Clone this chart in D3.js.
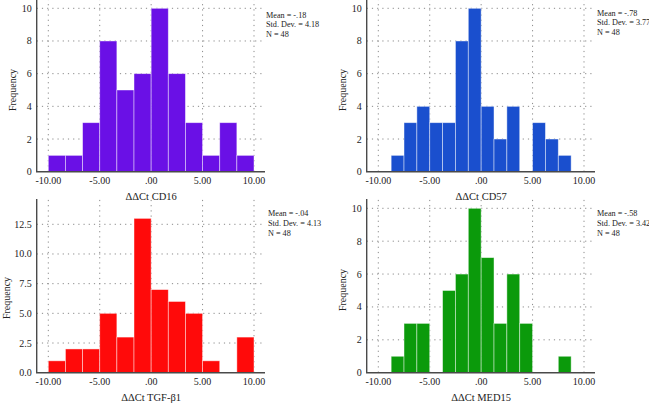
<!DOCTYPE html>
<html><head><meta charset="utf-8">
<script src="https://cdn.jsdelivr.net/npm/d3@7/dist/d3.min.js"></script>
<style>body{margin:0;background:#fff}svg{display:block}text{font-family:"Liberation Serif","Times New Roman",serif;fill:#222}</style>
</head><body><svg id="c" width="649" height="404"></svg>
<script>
// Bin edges
const edges12 = [-10, -8.333, -6.667, -5, -3.333, -1.667, 0, 1.667, 3.333, 5, 6.667, 8.333, 10];
const edges14 = [-8.75, -7.5, -6.25, -5, -3.75, -2.5, -1.25, 0, 1.25, 2.5, 3.75, 5, 6.25, 7.5, 8.75];
// Frequencies
const cd16 = [1, 1, 3, 8, 5, 6, 10, 6, 3, 1, 3, 1];
const cd57 = [1, 3, 4, 3, 3, 8, 10, 4, 2, 4, 0, 3, 2, 1];
const tgf  = [1, 2, 2, 5, 3, 13, 7, 6, 5, 1, 0, 3];
const med15 = [1, 3, 3, 0, 5, 6, 10, 7, 3, 6, 3, 0, 0, 1];
// Tick labels
const xTicks = [-10, -5, 0, 5, 10];
const xTickLabels = ["-10.00", "-5.00", ".00", "5.00", "10.00"];
const yTicksA = [0, 2, 4, 6, 8, 10];
const yTicksB = [0, 2.5, 5, 7.5, 10, 12.5];
const yTickLabelsB = ["0.0", "2.5", "5.0", "7.5", "10.0", "12.5"];
// Titles and stats
const xTitles = ["ΔΔCt CD16", "ΔΔCt CD57", "ΔΔCt TGF-β1", "ΔΔCt MED15"];
const means = ["-.18", "-.78", "-.04", "-.58"];
const sds = ["4.18", "3.77", "4.13", "3.42"];
const ns = [48, 48, 48, 48];

const panels = [
  {edges: edges12, counts: cd16, color: "#6a10e6", ox: 0, oy: 0, yTicks: yTicksA, yLab: d => String(d), yMax: 10.5, y0: 171.7, y1: 8.3, yv1: 10, top: 0, fx: 12, fy: 90, sx: 266, sy: 15},
  {edges: edges14, counts: cd57, color: "#1a4fce", ox: 330, oy: 0, yTicks: yTicksA, yLab: d => String(d), yMax: 10.5, y0: 171.7, y1: 8.3, yv1: 10, top: 0, fx: 342, fy: 90, sx: 597, sy: 13},
  {edges: edges12, counts: tgf, color: "#ff0a0a", ox: 0, oy: 200, yTicks: yTicksB, yLab: (d, i) => yTickLabelsB[i], yMax: 14.6, y0: 372.7, y1: 224.3, yv1: 12.5, top: 199, fx: 6, fy: 298, sx: 268, sy: 213.5},
  {edges: edges14, counts: med15, color: "#0b9a0b", ox: 330, oy: 200, yTicks: yTicksA, yLab: d => String(d), yMax: 10.5, y0: 372.7, y1: 208.3, yv1: 10, top: 199, fx: 342, fy: 290, sx: 597, sy: 213.5}
];

const svg = d3.select("#c");

panels.forEach((p, pi) => {
  const g = svg.append("g");
  const axL = p.ox + 36.7, axR = p.ox + 265;
  const x = d3.scaleLinear().domain([-10, 10]).range([p.ox + 48.3, p.ox + 254]);
  const y = d3.scaleLinear().domain([0, p.yv1]).range([p.y0, p.y1]);
  const topY = p.top;

  // grid
  g.selectAll(".hg").data(p.yTicks.filter(d => d > 0)).join("line")
    .attr("x1", axL).attr("x2", axR).attr("y1", d => y(d)).attr("y2", d => y(d))
    .attr("stroke", "#8a8a8a").attr("stroke-width", 1).attr("stroke-dasharray", "1.2,4");
  g.selectAll(".vg").data(xTicks).join("line")
    .attr("x1", d => x(d)).attr("x2", d => x(d)).attr("y1", p.y0).attr("y2", topY)
    .attr("stroke", "#8a8a8a").attr("stroke-width", 1).attr("stroke-dasharray", "1.2,4");

  // bars
  const bins = p.counts.map((c, i) => ({x0: p.edges[i], x1: p.edges[i + 1], c}));
  g.selectAll(".bar").data(bins.filter(b => b.c > 0)).join("rect")
    .attr("x", b => x(b.x0)).attr("width", b => x(b.x1) - x(b.x0))
    .attr("y", b => y(b.c)).attr("height", b => y(0) - y(b.c))
    .attr("fill", p.color).attr("stroke", "rgba(255,255,255,0.55)").attr("stroke-width", 0.8);

  // axes lines
  g.append("line").attr("x1", axL).attr("x2", axL).attr("y1", topY).attr("y2", p.y0)
    .attr("stroke", "#4a4a4a").attr("stroke-width", 1.4);
  g.append("line").attr("x1", axL - 0.7).attr("x2", axR).attr("y1", p.y0).attr("y2", p.y0)
    .attr("stroke", "#4a4a4a").attr("stroke-width", 1.4);

  // y tick labels
  g.selectAll(".yl").data(p.yTicks).join("text")
    .attr("x", axL - 5).attr("y", d => y(d)).attr("dy", "0.35em")
    .attr("text-anchor", "end").attr("font-size", 10)
    .text((d, i) => p.yLab(d, i));
  // x tick labels
  g.selectAll(".xl").data(xTicks).join("text")
    .attr("x", d => x(d)).attr("y", p.y0 + 8.5).attr("dy", "0.35em")
    .attr("text-anchor", "middle").attr("font-size", 10)
    .text((d, i) => xTickLabels[i]);
  // x title
  g.append("text").attr("x", x(0)).attr("y", p.y0 + 25).attr("dy", "0.35em")
    .attr("text-anchor", "middle").attr("font-size", 10.5).text(xTitles[pi]);
  // y title
  g.append("text").attr("transform", `translate(${p.fx},${p.fy}) rotate(-90)`)
    .attr("dy", "0.35em").attr("text-anchor", "middle").attr("font-size", 10).text("Frequency");
  // stats
  const lines = [`Mean = ${means[pi]}`, `Std. Dev. = ${sds[pi]}`, `N = ${ns[pi]}`];
  g.selectAll(".st").data(lines).join("text")
    .attr("x", p.sx).attr("y", (d, i) => p.sy + i * 9.6).attr("dy", "0.35em")
    .attr("font-size", 8.2).text(d => d);
});
</script></body></html>
